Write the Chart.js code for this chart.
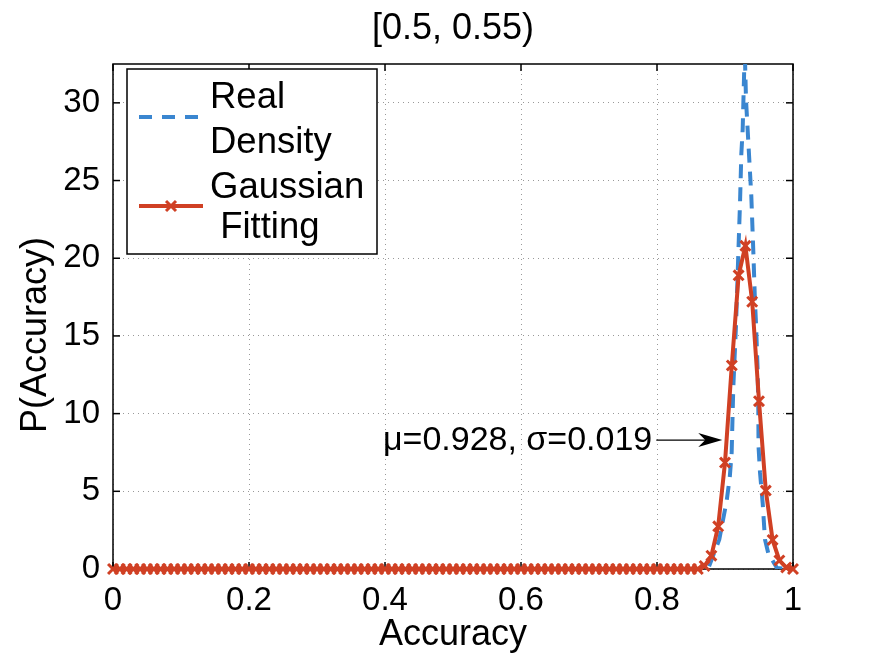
<!DOCTYPE html>
<html>
<head>
<meta charset="utf-8">
<script src="https://cdn.jsdelivr.net/npm/chart.js@4.4.0/dist/chart.umd.min.js"></script>
<style>
  html, body { margin: 0; padding: 0; background: #fff; }
  #wrap { width: 875px; height: 659px; }
</style>
</head>
<body>
<div id="wrap"><canvas id="myChart" width="875" height="659"></canvas></div>
<script>
const titleText = "[0.5, 0.55)";
const xLabel = "Accuracy";
const yLabel = "P(Accuracy)";
const xTicks = [0, 0.2, 0.4, 0.6, 0.8, 1];
const yTicks = [0, 5, 10, 15, 20, 25, 30];
const legendText = [["Real", "Density"], ["Gaussian", " Fitting"]];
const noteText = "\u03bc=0.928, \u03c3=0.019";
const notePoint = [0.896, 8.3];

// real density curve
const realX = [0, 0.875, 0.882, 0.8916, 0.9025, 0.907, 0.9098, 0.9122, 0.9162, 0.9196, 0.9221,
  0.924, 0.926, 0.927, 0.928, 0.929, 0.9309, 0.9349, 0.9387, 0.9416, 0.944, 0.9456, 0.948,
  0.949, 0.9493, 0.9515, 0.9554, 0.9588, 0.9637, 0.9765, 1];
const realY = [0, 0, 0.8, 1.9, 4.4, 5.9, 7.5, 11.7, 15.7, 20.3, 23.6,
  26.7, 28.3, 30.0, 31.7, 33.5, 30.2, 27.0, 24.0, 20.5, 17.3, 15.8, 12.8,
  10.2, 7.9, 6.2, 4.25, 1.9, 1.0, 0.06, 0];

// gaussian fitting, one value every 0.01 from 0 to 1
const fitY = [
  0, 0, 0, 0, 0, 0, 0, 0, 0, 0,
  0, 0, 0, 0, 0, 0, 0, 0, 0, 0,
  0, 0, 0, 0, 0, 0, 0, 0, 0, 0,
  0, 0, 0, 0, 0, 0, 0, 0, 0, 0,
  0, 0, 0, 0, 0, 0, 0, 0, 0, 0,
  0, 0, 0, 0, 0, 0, 0, 0, 0, 0,
  0, 0, 0, 0, 0, 0, 0, 0, 0, 0,
  0, 0, 0, 0, 0, 0, 0, 0, 0, 0,
  0, 0, 0, 0, 0, 0, 0, 0.2, 0.86, 2.75,
  6.85, 13.1, 18.9, 20.8, 17.2, 10.8, 5.05, 1.87, 0.55, 0.1,
  0
];
const fitX = fitY.map((v, i) => i / 100);

const blue = "rgb(58,134,208)";
const red = "rgb(208,64,36)";
const fontFam = "'Liberation Sans', Arial, Helvetica, sans-serif";
Chart.defaults.font.family = fontFam;
Chart.defaults.color = "#000";

function seg(ctx, x1, y1, x2, y2) {
  ctx.beginPath(); ctx.moveTo(x1, y1); ctx.lineTo(x2, y2); ctx.stroke();
}

const frame = {
  id: "frame",
  beforeDatasetsDraw(chart) {
    const { ctx, chartArea: a, scales: { x, y } } = chart;
    ctx.save();
    ctx.strokeStyle = "#000";
    ctx.lineWidth = 1.5;
    ctx.strokeRect(a.left, a.top, a.right - a.left, a.bottom - a.top);
    xTicks.forEach(v => {
      const p = x.getPixelForValue(v);
      seg(ctx, p, a.bottom, p, a.bottom - 7);
      seg(ctx, p, a.top, p, a.top + 7);
    });
    yTicks.forEach(v => {
      const p = y.getPixelForValue(v);
      seg(ctx, a.left, p, a.left + 7, p);
      seg(ctx, a.right, p, a.right - 7, p);
    });
    ctx.restore();
  },
  afterDraw(chart) {
    const { ctx, chartArea: a, scales: { x, y } } = chart;
    ctx.save();
    ctx.fillStyle = "#000";
    // title
    ctx.font = "36px " + fontFam;
    ctx.textAlign = "center";
    ctx.textBaseline = "middle";
    ctx.fillText(titleText, (a.left + a.right) / 2, 29);

    // y axis label
    ctx.save();
    ctx.translate(36, 335);
    ctx.rotate(-Math.PI / 2);
    ctx.font = "36px " + fontFam;
    ctx.fillText(yLabel, 0, 0);
    ctx.restore();

    // annotation with arrow
    const tx = x.getPixelForValue(notePoint[0]);
    const ty = y.getPixelForValue(notePoint[1]);
    ctx.font = "34px " + fontFam;
    ctx.textAlign = "right";
    ctx.fillText(noteText, tx - 70, ty + 1);
    ctx.strokeStyle = "#000";
    ctx.lineWidth = 1.2;
    seg(ctx, tx - 66, ty, tx - 12, ty);
    ctx.beginPath();
    ctx.moveTo(tx, ty);
    ctx.lineTo(tx - 24, ty - 7);
    ctx.lineTo(tx - 17, ty);
    ctx.lineTo(tx - 24, ty + 7);
    ctx.closePath();
    ctx.fill();

    // legend
    const lx = a.left + 14, ly = a.top + 5, lw = 250, lh = 185;
    ctx.fillStyle = "#fff";
    ctx.fillRect(lx, ly, lw, lh);
    ctx.lineWidth = 1.5;
    ctx.strokeRect(lx, ly, lw, lh);
    ctx.lineWidth = 4;
    ctx.strokeStyle = blue;
    ctx.setLineDash([13, 10]);
    seg(ctx, lx + 12, ly + 48, lx + 76, ly + 48);
    ctx.setLineDash([]);
    ctx.strokeStyle = red;
    seg(ctx, lx + 12, ly + 137, lx + 76, ly + 137);
    ctx.lineWidth = 3;
    const mx = lx + 44, my = ly + 137, r = 5;
    seg(ctx, mx - r, my - r, mx + r, my + r);
    seg(ctx, mx - r, my + r, mx + r, my - r);
    ctx.fillStyle = "#000";
    ctx.font = "36.5px " + fontFam;
    ctx.textAlign = "left";
    const rows = [legendText[0][0], legendText[0][1], legendText[1][0], legendText[1][1]];
    const rowY = [29, 74, 119, 159];
    rows.forEach((t, i) => ctx.fillText(t, lx + 83, ly + rowY[i]));
    ctx.restore();
  }
};

new Chart("myChart", {
  type: "line",
  data: {
    datasets: [
      {
        label: "Real Density",
        data: realX.map((v, i) => ({ x: v, y: realY[i] })),
        borderColor: blue,
        borderWidth: 4,
        borderDash: [14, 9],
        pointRadius: 0,
        fill: false,
        tension: 0,
        clip: 0,
        order: 2
      },
      {
        label: "Gaussian Fitting",
        data: fitX.map((v, i) => ({ x: v, y: fitY[i] })),
        borderColor: red,
        borderWidth: 4,
        pointStyle: "crossRot",
        pointRadius: 7,
        pointBorderWidth: 3,
        pointBorderColor: red,
        pointBackgroundColor: red,
        fill: false,
        tension: 0,
        clip: false,
        order: 1
      }
    ]
  },
  options: {
    responsive: false,
    animation: false,
    layout: { padding: { top: 64, right: 82, left: 0, bottom: 0 } },
    plugins: {
      legend: { display: false },
      title: { display: false },
      tooltip: { enabled: false }
    },
    scales: {
      x: {
        type: "linear",
        min: 0,
        max: 1,
        afterFit: s => { s.height = 90; },
        afterBuildTicks: s => { s.ticks = xTicks.map(v => ({ value: v })); },
        ticks: {
          font: { size: 33 }, padding: 12, maxRotation: 0, color: "#000",
          callback: v => String(Number(v.toFixed(2)))
        },
        grid: { color: "#999", lineWidth: 1, drawTicks: false },
        border: { display: false, dash: [1, 4] },
        title: { display: true, text: xLabel, font: { size: 36 }, color: "#000", padding: { top: 0, bottom: 2 } }
      },
      y: {
        type: "linear",
        min: 0,
        max: 32.5,
        afterFit: s => { s.width = 113; },
        afterBuildTicks: s => { s.ticks = yTicks.map(v => ({ value: v })); },
        ticks: { font: { size: 33 }, padding: 13, color: "#000" },
        grid: { color: "#999", lineWidth: 1, drawTicks: false },
        border: { display: false, dash: [1, 4] },
        title: { display: false }
      }
    }
  },
  plugins: [frame]
});
</script>
</body>
</html>
